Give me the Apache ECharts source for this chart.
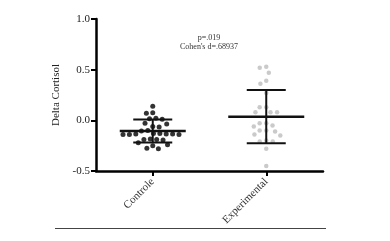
<!DOCTYPE html>
<html>
<head>
<meta charset="utf-8">
<script src="https://cdn.jsdelivr.net/npm/echarts@6/dist/echarts.min.js"></script>
<style>
html,body{margin:0;padding:0;background:#fff;}
#c{width:390px;height:241px;}
</style>
</head>
<body>
<div id="c"></div>
<script>
// ---- data ----
const categories = ['Controle', 'Experimental'];
const controlValues = [0.14, 0.075, 0.07, 0.02, 0.015, 0.01, -0.03, -0.035, -0.06, -0.065,
  -0.10, -0.105, -0.13, -0.13, -0.135, -0.135, -0.135, -0.14, -0.14, -0.14,
  -0.185, -0.19, -0.19, -0.195, -0.22, -0.24, -0.25, -0.275, -0.28];
const experimentalValues = [0.53, 0.52, 0.47, 0.39, 0.36, 0.27, 0.13, 0.13, 0.08, 0.08, 0.08,
  -0.03, -0.03, -0.05, -0.06, -0.10, -0.10, -0.11, -0.14, -0.15, -0.20, -0.21, -0.21, -0.28, -0.45];
const meanValues = [-0.105, 0.036];
const sdValues = [0.113, 0.263];
const yTickLabels = ['-0.5', '0.0', '0.5', '1.0'];
const annotationLines = ['p=.019', "Cohen's d=.68937"];
const yAxisTitle = 'Delta Cortisol';

// ---- styles ----
const SERIF = '"Liberation Serif", "DejaVu Serif", serif';
const meanHalfWidth = [33, 38];
const capHalfWidth = 19.5;
const dotDiameter = [5, 4.5];
const swarmSpacing = [6.4, 6.6];

const chart = echarts.init(document.getElementById('c'), null, {renderer: 'canvas'});

function beeswarm(ys, D) {
  const placed = [], offs = [];
  ys.forEach(y => {
    const cands = [0];
    placed.forEach(p => {
      const dy = Math.abs(p.y - y);
      if (dy < D) { const dx = Math.sqrt(D * D - dy * dy); cands.push(p.x + dx, p.x - dx); }
    });
    cands.sort((a, b) => (Math.abs(a) - Math.abs(b)) || (a - b));
    const x = cands.find(c => placed.every(p => (p.x - c) * (p.x - c) + (p.y - y) * (p.y - y) >= D * D - 1e-6));
    placed.push({x, y}); offs.push(x);
  });
  return offs;
}

function buildOption(offC, offE) {
  const mk = (vals, ci, offs) => vals.map((v, i) => ({value: [ci, v], symbolOffset: [offs ? offs[i] : 0, 0]}));
  return {
    animation: false,
    grid: {left: 96, right: 67, top: 19, bottom: 70, containLabel: false},
    xAxis: {
      type: 'category', data: categories, boundaryGap: true,
      axisLine: {show: true, onZero: false, lineStyle: {color: '#000', width: 2.5}},
      axisTick: {show: true, alignWithLabel: true, length: 5, lineStyle: {color: '#000', width: 2}},
      axisLabel: {rotate: 45, margin: 9, fontFamily: SERIF, fontSize: 11, color: '#333'},
      splitLine: {show: false}
    },
    yAxis: {
      type: 'value', min: -0.5, max: 1.0, interval: 0.5,
      name: yAxisTitle, nameLocation: 'middle', nameGap: 23,
      nameTextStyle: {fontFamily: SERIF, fontSize: 11, color: '#222'},
      axisLine: {show: true, onZero: false, lineStyle: {color: '#000', width: 2.5}},
      axisTick: {show: true, length: 5, lineStyle: {color: '#000', width: 2}},
      axisLabel: {margin: 6, fontFamily: SERIF, fontSize: 11, color: '#222',
        formatter: v => { const i = [-0.5, 0, 0.5, 1].findIndex(t => Math.abs(t - v) < 1e-9); return i >= 0 ? yTickLabels[i] : ''; }},
      splitLine: {show: false}
    },
    series: [
      {type: 'scatter', symbol: 'circle', symbolSize: dotDiameter[0], itemStyle: {color: '#000'},
       data: mk(controlValues, 0, offC), z: 2},
      {type: 'scatter', symbol: 'circle', symbolSize: dotDiameter[1], itemStyle: {color: '#bdbdbd'},
       data: mk(experimentalValues, 1, offE), z: 2},
      {type: 'custom', z: 5,
       data: meanValues.map((m, i) => [i, m, sdValues[i]]),
       renderItem: (params, api) => {
         const ci = api.value(0), m = api.value(1), s = api.value(2);
         const c = api.coord([ci, m]), t = api.coord([ci, m + s]), b = api.coord([ci, m - s]);
         const mh = meanHalfWidth[params.dataIndex];
         const st = {stroke: '#111', lineWidth: 2};
         return {type: 'group', children: [
           {type: 'line', shape: {x1: c[0], y1: t[1], x2: c[0], y2: b[1]}, style: st},
           {type: 'line', shape: {x1: c[0] - capHalfWidth, y1: t[1], x2: c[0] + capHalfWidth, y2: t[1]}, style: st},
           {type: 'line', shape: {x1: c[0] - capHalfWidth, y1: b[1], x2: c[0] + capHalfWidth, y2: b[1]}, style: st},
           {type: 'line', shape: {x1: c[0] - mh, y1: c[1], x2: c[0] + mh, y2: c[1]}, style: {stroke: '#111', lineWidth: 2.5}}
         ]};
       }}
    ],
    graphic: [
      {type: 'text', left: 209 - 60, top: 33, z: 10,
       style: {text: annotationLines.join('\n'), width: 120, align: 'center', textAlign: 'center',
         font: '8px ' + SERIF, fill: '#333', lineHeight: 9.5, x: 60}},
      {type: 'line', shape: {x1: 55, y1: 228.5, x2: 326, y2: 228.5}, style: {stroke: '#444', lineWidth: 1}}
    ]
  };
}

chart.setOption(buildOption(null, null));
const pyC = controlValues.map(v => chart.convertToPixel({gridIndex: 0}, [0, v])[1]);
const pyE = experimentalValues.map(v => chart.convertToPixel({gridIndex: 0}, [1, v])[1]);
chart.setOption(buildOption(beeswarm(pyC, swarmSpacing[0]), beeswarm(pyE, swarmSpacing[1])));
</script>
</body>
</html>
